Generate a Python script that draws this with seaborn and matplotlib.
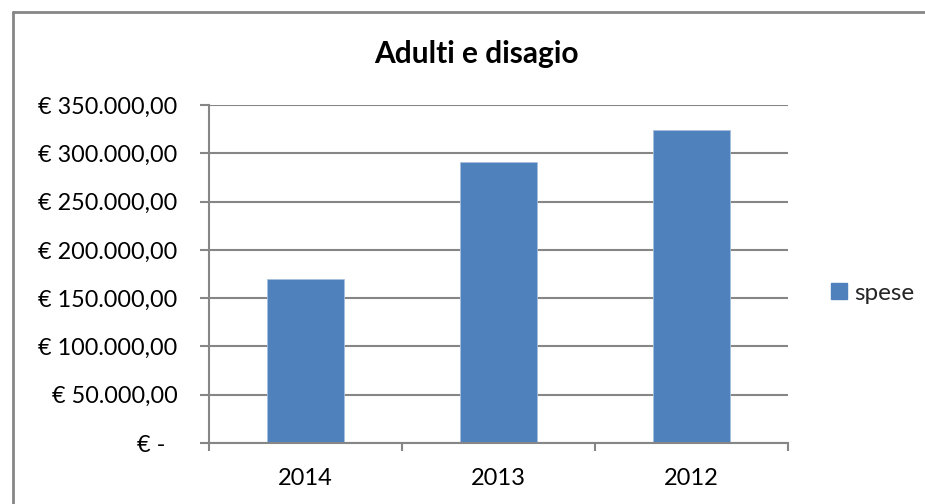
import matplotlib
matplotlib.use("Agg")
import matplotlib.pyplot as plt
import seaborn as sns
import pandas as pd
from matplotlib.ticker import FuncFormatter, FixedLocator
from matplotlib.lines import Line2D
from matplotlib.patches import Patch

years = ["2014", "2013", "2012"]
spese = [170200, 290600, 323800]
y_ticks = [0, 50000, 100000, 150000, 200000, 250000, 300000, 350000]
title = "Adulti e disagio"
series_name = "spese"

sns.set_theme(style="white")
plt.rcParams['font.family'] = ['Lato', 'DejaVu Sans']

df = pd.DataFrame({"anno": years, "spese": spese})

W, H = 925, 504
fig = plt.figure(figsize=(W / 100, H / 100), dpi=100)
ax = fig.add_axes([209 / W, 1 - 443 / H, (788 - 209) / W, (443 - 105) / H])

blue = "#4F81BD"
grey = "#868686"
sns.barplot(data=df, x="anno", y="spese", color=blue, width=0.404, ax=ax,
            saturation=1, edgecolor="#A7BFDE", linewidth=0.6)

ax.set_xlim(-0.5, 2.5)
ax.set_ylim(0, 350000)
ax.set_yticks(y_ticks)


def fmt(v, pos):
    if v == 0:
        return "€ -  "
    s = f"{v:,.2f}"
    s = s.replace(",", "X").replace(".", ",").replace("X", ".")
    return "€ " + s


ax.yaxis.set_major_formatter(FuncFormatter(fmt))
ax.grid(axis="y", color=grey, linewidth=1.5)
ax.set_axisbelow(True)
ax.set_xlabel("")
ax.set_ylabel("")
for s in ["top", "right"]:
    ax.spines[s].set_visible(False)
for s in ["left", "bottom"]:
    ax.spines[s].set_color(grey)
    ax.spines[s].set_linewidth(1.5)

ax.tick_params(axis="y", length=6.5, width=1.5, color=grey, pad=16,
               labelsize=16.8, labelcolor="black", left=True)
ax.tick_params(axis="x", which="major", length=0, pad=18,
               labelsize=17, labelcolor="black")
ax.xaxis.set_minor_locator(FixedLocator([-0.5, 0.5, 1.5, 2.5]))
ax.tick_params(axis="x", which="minor", length=6, width=1.5, color=grey,
               bottom=True)

fig.text(476.5 / W, 1 - 54 / H, title, ha="center", va="center",
         fontsize=21.5, fontweight="bold", color="black")

handles = [Patch(facecolor=blue, edgecolor=blue, label=series_name)]
fig.legend(handles=handles, loc="center left",
           bbox_to_anchor=(831 / W, 1 - 293 / H), frameon=False,
           fontsize=17.5, handlelength=0.65, handleheight=0.65,
           handletextpad=0.3, borderpad=0, borderaxespad=0)

# chart border (top and left visible)
fig.add_artist(Line2D([13 / W, 13 / W], [0, 1 - 12 / H], transform=fig.transFigure,
                      color=grey, linewidth=2))
fig.add_artist(Line2D([13 / W, 1], [1 - 12 / H, 1 - 12 / H], transform=fig.transFigure,
                      color=grey, linewidth=2))

fig.savefig("out.png", dpi=100)
